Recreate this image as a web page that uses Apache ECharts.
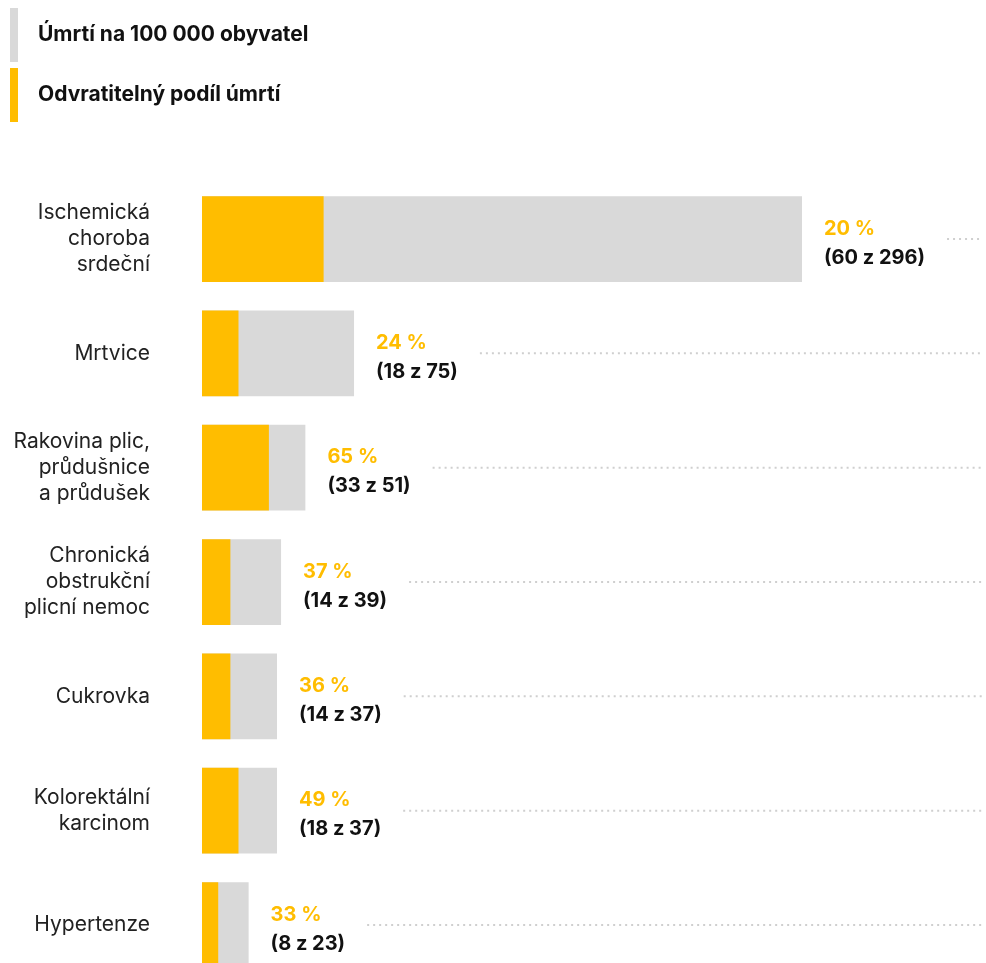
<!DOCTYPE html>
<html>
<head>
<meta charset="utf-8">
<script src="https://cdn.jsdelivr.net/npm/echarts@6/dist/echarts.min.js"></script>
<style>
html,body{margin:0;padding:0;background:#fff;}
#chart{width:986px;height:963px;}
</style>
</head>
<body>
<div id="chart"></div>
<script>
const categories = [
  "Ischemická\nchoroba\nsrdeční",
  "Mrtvice",
  "Rakovina plic,\nprůdušnice\na průdušek",
  "Chronická\nobstrukční\nplicní nemoc",
  "Cukrovka",
  "Kolorektální\nkarcinom",
  "Hypertenze"
];
const totalDeaths = [296, 75, 51, 39, 37, 37, 23];
const preventableDeaths = [60, 18, 33, 14, 14, 18, 8];
const preventablePercent = [20, 24, 65, 37, 36, 49, 33];
const seriesNames = ["Úmrtí na 100 000 obyvatel", "Odvratitelný podíl úmrtí"];

const FONT = 'Inter, "Noto Sans", sans-serif';
const YELLOW = '#FFBD00';
const GREY = '#D9D9D9';
const LABEL_SIZE = 20;

// measure label widths for positioning the dotted leader lines
const ctx = document.createElement('canvas').getContext('2d');
ctx.font = 'bold ' + LABEL_SIZE + 'px ' + FONT;
const labelWidths = totalDeaths.map((t, i) => Math.max(
  ctx.measureText(preventablePercent[i] + ' %').width,
  ctx.measureText('(' + preventableDeaths[i] + ' z ' + t + ')').width
));

const chart = echarts.init(document.getElementById('chart'), null, {renderer: 'canvas'});
const option = {
  animation: false,
  backgroundColor: '#fff',
  textStyle: {fontFamily: FONT},
  legend: {
    orient: 'vertical',
    left: 10,
    top: 8,
    padding: 0,
    itemWidth: 8,
    itemHeight: 54,
    itemGap: 6,
    icon: 'rect',
    selectedMode: false,
    data: seriesNames,
    textStyle: {
      fontFamily: FONT,
      fontSize: 21,
      fontWeight: 'bold',
      color: '#111',
      padding: [0, 0, 0, 15]
    }
  },
  grid: {left: 202, right: 4, top: 239, height: 686, containLabel: false},
  xAxis: {
    type: 'value',
    min: 0,
    max: 296 * 780 / 600,
    show: false
  },
  yAxis: {
    type: 'category',
    inverse: true,
    boundaryGap: false,
    data: categories,
    axisLine: {show: false},
    axisTick: {show: false},
    splitLine: {show: false},
    axisLabel: {
      margin: 52,
      fontFamily: FONT,
      fontSize: 21,
      lineHeight: 26,
      color: '#222',
      align: 'right'
    }
  },
  series: [
    {
      type: 'custom',
      name: 'leaders',
      silent: true,
      z: 1,
      data: totalDeaths.map((v, i) => [v, i]),
      encode: {x: 0, y: 1},
      renderItem: function (params, api) {
        const idx = api.value(1);
        const p = api.coord([api.value(0), idx]);
        const cs = params.coordSys;
        const x1 = p[0] + 22 + labelWidths[idx] + 22;
        const x2 = cs.x + cs.width;
        return {
          type: 'line',
          shape: {x1: x1, y1: p[1], x2: x2, y2: p[1]},
          style: {stroke: '#CFCFCF', lineWidth: 2, lineDash: [2, 4], lineCap: 'butt'}
        };
      }
    },
    {
      type: 'bar',
      name: seriesNames[0],
      data: totalDeaths,
      itemStyle: {color: GREY},
      barCategoryGap: '25%',
      z: 2,
      label: {
        show: true,
        position: 'right',
        distance: 22,
        offset: [0, 4],
        formatter: function (p) {
          const i = p.dataIndex;
          return '{p|' + preventablePercent[i] + ' %}\n{n|(' + preventableDeaths[i] + ' z ' + totalDeaths[i] + ')}';
        },
        rich: {
          p: {color: YELLOW, fontWeight: 'bold', fontSize: LABEL_SIZE, lineHeight: 29, fontFamily: FONT},
          n: {color: '#111', fontWeight: 'bold', fontSize: LABEL_SIZE, lineHeight: 29, fontFamily: FONT}
        }
      }
    },
    {
      type: 'bar',
      name: seriesNames[1],
      data: preventableDeaths,
      itemStyle: {color: YELLOW},
      barGap: '-100%',
      barCategoryGap: '25%',
      z: 3
    }
  ]
};
chart.setOption(option);
</script>
</body>
</html>
